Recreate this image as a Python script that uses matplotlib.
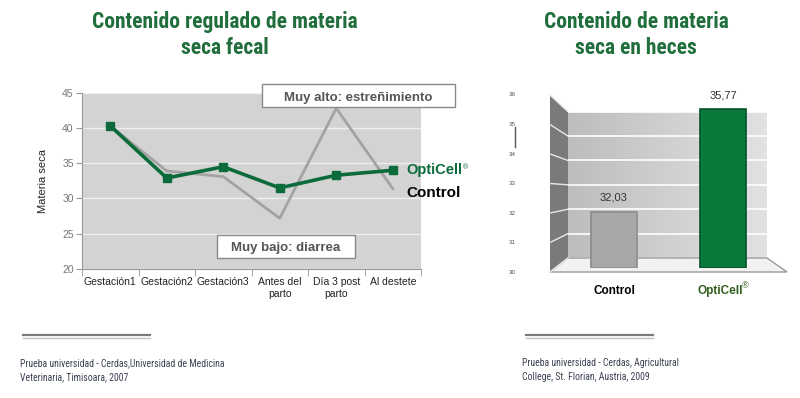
import numpy as np
import matplotlib
matplotlib.use("Agg")
import matplotlib.pyplot as plt
from matplotlib.patches import Rectangle, Polygon
from matplotlib.lines import Line2D
from matplotlib import font_manager

# ---------------- data ----------------
stages = ["Gestación1", "Gestación2", "Gestación3", "Antes del\nparto", "Día 3 post\nparto", "Al destete"]
opticell_line = [40.3, 32.9, 34.5, 31.5, 33.3, 34.0]
control_line = [40.3, 33.9, 33.1, 27.2, 42.8, 31.4]
left_yticks = [20, 25, 30, 35, 40, 45]

bar_groups = ["Control", "OptiCell"]
bar_values = [32.03, 35.77]
bar_labels = ["32,03", "35,77"]
right_yticks = [30, 31, 32, 33, 34, 35, 36]

# ---------------- style ----------------
W, H = 800, 398
GREEN = "#0b6b3a"
TITLE_GREEN = "#1f6e3c"
avail = {f.name for f in font_manager.fontManager.ttflist}
def pick(*names):
    for n in names:
        if n in avail:
            return n
    return "DejaVu Sans"
NARROW = pick("Liberation Sans Narrow", "DejaVu Sans Condensed", "Roboto Condensed", "Liberation Sans")
SANS = pick("Liberation Sans", "DejaVu Sans")
plt.rcParams['font.family'] = [SANS, 'DejaVu Sans']

def fx(x): return x / W
def fy(y): return 1 - y / H

fig = plt.figure(figsize=(W / 100, H / 100), dpi=100)
fig.patch.set_facecolor("white")

# ---------------- titles ----------------
for txt, yy in [("Contenido regulado de materia", 22), ("seca fecal", 48)]:
    fig.text(fx(225), fy(yy), txt, ha="center", va="center", family=NARROW,
             fontweight="bold", fontsize=15.5, color=TITLE_GREEN)
for txt, yy in [("Contenido de materia", 22), ("seca en heces", 48)]:
    fig.text(fx(636), fy(yy), txt, ha="center", va="center", family=NARROW,
             fontweight="bold", fontsize=15.5, color=TITLE_GREEN)

# ---------------- left line chart ----------------
L, R, T, B = 82, 421, 92.7, 269
ax = fig.add_axes([fx(L), fy(B), (R - L) / W, (B - T) / H])
ax.set_facecolor("#d3d3d3")
x = np.arange(len(stages))
ax.plot(x, control_line, color="#a3a3a3", lw=2.0, zorder=3)
ax.plot(x, opticell_line, color=GREEN, lw=2.6, marker="s", ms=5.5, zorder=4)
ax.set_xlim(-0.5, len(stages) - 0.5)
ax.set_ylim(20, 45)
ax.set_yticks(left_yticks)
ax.yaxis.grid(True, color="#eeeeee", lw=1)
ax.set_axisbelow(True)
ax.set_xticks(x)
ax.set_xticklabels(stages, fontsize=7.5, color="#222222", linespacing=1.25)
ax.set_xticks(np.arange(len(stages) + 1) - 0.5, minor=True)
ax.tick_params(axis="x", which="major", length=0, pad=6)
ax.tick_params(axis="x", which="minor", length=5, color="#999999")
ax.tick_params(axis="y", labelsize=7.5, labelcolor="#777777", color="#999999", length=4, pad=2)
for s in ["top", "right"]:
    ax.spines[s].set_visible(False)
for s in ["left", "bottom"]:
    ax.spines[s].set_color("#999999")
ax.set_ylabel("Materia seca", fontsize=8, color="#222222", labelpad=10)

# legend texts
fig.text(fx(406), fy(170), "OptiCell", ha="left", va="center", fontsize=10.5,
         fontweight="bold", color=GREEN)
fig.text(fx(463), fy(168), "®", ha="left", va="center", fontsize=5, color=GREEN)
fig.text(fx(406), fy(193), "Control", ha="left", va="center", fontsize=11,
         fontweight="bold", color="black")

# annotation boxes
for (x0, y0, x1, y1, txt) in [(262, 84, 455, 107, "Muy alto: estreñimiento"),
                              (217, 235, 355, 258, "Muy bajo: diarrea")]:
    fig.add_artist(Rectangle((fx(x0), fy(y1)), (x1 - x0) / W, (y1 - y0) / H,
                             transform=fig.transFigure, facecolor="white",
                             edgecolor="#8a8a8a", lw=1, zorder=10))
    fig.text(fx((x0 + x1) / 2), fy((y0 + y1) / 2 + 2), txt, ha="center", va="center",
             fontsize=9.5, fontweight="bold", color="#555555", zorder=11)

# ---------------- right 3D-like bar chart ----------------
# back wall
bw_L, bw_R, bw_T, bw_B = 568, 767, 111.7, 258
axw = fig.add_axes([fx(bw_L), fy(bw_B), (bw_R - bw_L) / W, (bw_B - bw_T) / H])
grad = np.linspace(0, 1, 256)[None, :]
axw.imshow(grad, extent=[0, 1, 30, 36], aspect="auto", cmap=matplotlib.colors.LinearSegmentedColormap.from_list("g", ["#bdbdbd", "#e2e2e2"]), zorder=0)
axw.set_xlim(0, 1)
axw.set_ylim(30, 36)
for v in right_yticks:
    axw.axhline(v, color="white", lw=1.2, zorder=1)
axw.set_xticks([]); axw.set_yticks([])
for s in axw.spines.values():
    s.set_visible(False)

# side wall
sw_front_x, sw_front_top, sw_front_bot = 550, 95, 272
fig.add_artist(Polygon([(fx(sw_front_x), fy(sw_front_top)), (fx(bw_L), fy(bw_T)),
                        (fx(bw_L), fy(bw_B)), (fx(sw_front_x), fy(sw_front_bot))],
                       closed=True, transform=fig.transFigure, facecolor="#7a7a7a",
                       edgecolor="none", zorder=1))
for v in right_yticks:
    yf = sw_front_bot - (v - 30) * (sw_front_bot - sw_front_top) / 6
    yb = bw_B - (v - 30) * (bw_B - bw_T) / 6
    fig.add_artist(Line2D([fx(sw_front_x), fx(bw_L)], [fy(yf), fy(yb)],
                          transform=fig.transFigure, color="#e8e8e8", lw=1, zorder=2))
    fig.text(fx(516), fy(yf), str(v), ha="right", va="center", fontsize=4.5, color="#555555")
# floor
fig.add_artist(Polygon([(fx(sw_front_x), fy(sw_front_bot)), (fx(bw_L), fy(bw_B)),
                        (fx(bw_R), fy(bw_B)), (fx(787), fy(sw_front_bot))],
                       closed=True, transform=fig.transFigure, facecolor="#f2f2f2",
                       edgecolor="#9a9a9a", lw=1, zorder=1))
# small stray mark
fig.add_artist(Line2D([fx(515), fx(515)], [fy(127), fy(147)], transform=fig.transFigure,
                      color="#555555", lw=1))

# bars
axb = fig.add_axes([fx(559.5), fy(267.5), 218 / W, 165 / H])
axb.set_zorder(5)
axb.patch.set_visible(False)
xb = np.arange(len(bar_groups))
vals = np.array(bar_values)
axb.bar(xb, vals - 30, bottom=30, width=0.43, color=["#a8a8a8", "#0a7a3c"],
        edgecolor=["#8c8c8c", "#05502a"], lw=1.2, zorder=3)
axb.set_xlim(-0.5, 1.5)
axb.set_ylim(30, 36)
for xi, v, lab in zip(xb, bar_values, bar_labels):
    axb.text(xi, v + 0.5, lab, ha="center", va="center", fontsize=8, color="#333333", clip_on=False)
axb.set_xticks([]); axb.set_yticks([])
for s in axb.spines.values():
    s.set_visible(False)

fig.text(fx(614), fy(291), "Control", ha="center", va="center", fontsize=8.5,
         fontweight="bold", color="black")
fig.text(fx(720), fy(291), "OptiCell", ha="center", va="center", fontsize=8.5,
         fontweight="bold", color="#2e5e1c")
fig.text(fx(742), fy(286), "®", ha="left", va="center", fontsize=6.5, color="#2e5e1c")

# ---------------- footnotes ----------------
for x0, x1 in [(23, 150), (526, 653)]:
    fig.add_artist(Line2D([fx(x0), fx(x1)], [fy(335), fy(335)], transform=fig.transFigure,
                          color="#7a7a7a", lw=1.6))
    fig.add_artist(Line2D([fx(x0), fx(x1)], [fy(338), fy(338)], transform=fig.transFigure,
                          color="#c0c0c0", lw=1.0))
fig.text(fx(20), fy(363), "Prueba universidad - Cerdas,Universidad de Medicina", ha="left",
         va="center", fontsize=7, family=NARROW, color="#3a4152")
fig.text(fx(20), fy(377), "Veterinaria, Timisoara, 2007", ha="left", va="center",
         fontsize=7, family=NARROW, color="#3a4152")
fig.text(fx(522), fy(363), "Prueba universidad - Cerdas, Agricultural", ha="left",
         va="center", fontsize=7, family=NARROW, color="#3a4152")
fig.text(fx(522), fy(377), "College, St. Florian, Austria, 2009", ha="left", va="center",
         fontsize=7, family=NARROW, color="#3a4152")

fig.savefig("out.png", dpi=100, facecolor="white")
